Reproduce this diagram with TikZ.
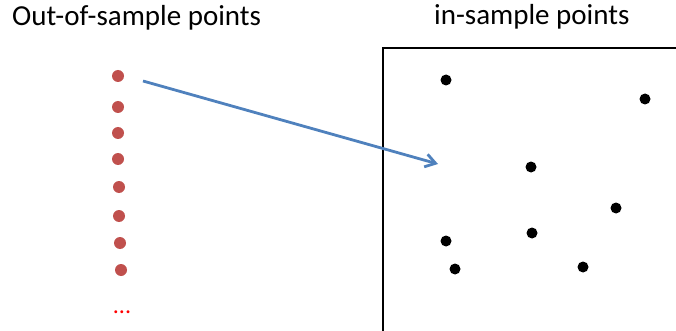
\documentclass[tikz,border=0pt]{standalone}
\usepackage{fontspec}
\setmainfont{Carlito}
\usetikzlibrary{arrows.meta}
\definecolor{outred}{RGB}{192,80,77}
\definecolor{arrowblue}{RGB}{79,129,189}
\tikzset{
  outpt/.style={circle,fill=outred,inner sep=0pt,minimum size=12pt},
  inpt/.style={circle,fill=black,inner sep=0pt,minimum size=11pt},
  title/.style={anchor=base west,inner sep=0pt,font=\fontsize{29}{34}\selectfont}
}
\begin{document}
\begin{tikzpicture}[x=1pt,y=-1pt]
	\useasboundingbox (0,0) rectangle (676,331);
	\node[title] (outtitle) at (12,26) {Out-of-sample points};
	\node[title] (intitle) at (434,25) {in-sample points};
	\draw[black,line width=2pt] (676,48) -- (383,48) -- (383,331);
	% out-of-sample points
	\foreach \n/\x/\y in {1/118/76,2/118/107,3/118/133,4/118/159,5/119/187,6/119/216,7/120/243,8/121/270}
		\node[outpt] (o\n) at (\x,\y) {};
	\node[text=red,inner sep=0pt,font=\fontsize{24}{28}\selectfont] (more) at (122,312) {...};
	% in-sample points
	\foreach \n/\x/\y in {1/446/80,2/645/99,3/531/167,4/616/208,5/446/241,6/532/233,7/455/269,8/583/267}
		\node[inpt] (i\n) at (\x,\y) {};
	\coordinate (from) at (143,81);
	\coordinate (to) at (438,164);
	\draw[arrowblue,line width=2.8pt,-{Straight Barb[length=10pt,width=13pt]}] (from) -- (to);
\end{tikzpicture}
\end{document}
